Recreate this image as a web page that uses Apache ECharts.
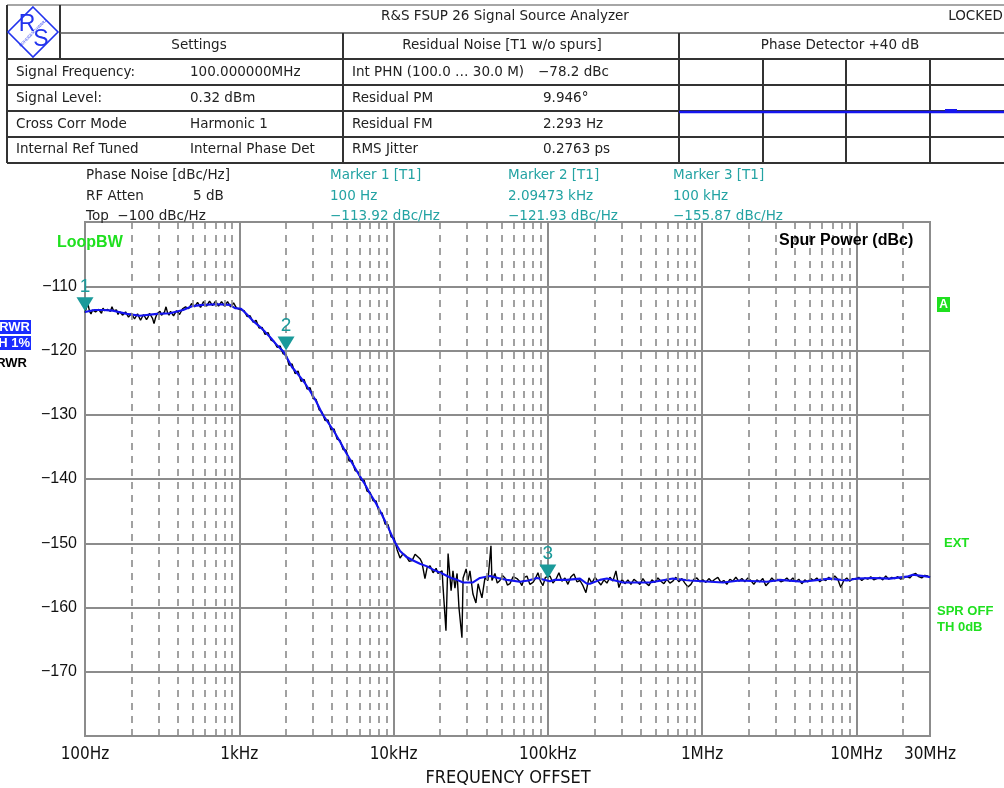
<!DOCTYPE html>
<html><head><meta charset="utf-8">
<script src="https://cdn.jsdelivr.net/npm/echarts@6/dist/echarts.min.js"></script>
<style>html,body{margin:0;padding:0;background:#fff;}#c{width:1004px;height:788px;}</style>
</head><body><div id="c"></div>
<script>
// ---------------- data ----------------
const xTickLabels = {100:'100Hz',1e3:'1kHz',1e4:'10kHz',1e5:'100kHz',1e6:'1MHz',1e7:'10MHz',3e7:'30MHz'};
const yTicks = [-110,-120,-130,-140,-150,-160,-170];
const minorGridFreqs = [200,300,400,500,600,700,800,900,2000,3000,4000,5000,6000,7000,8000,9000,
  2e4,3e4,4e4,5e4,6e4,7e4,8e4,9e4,2e5,3e5,4e5,5e5,6e5,7e5,8e5,9e5,2e6,3e6,4e6,5e6,6e6,7e6,8e6,9e6,2e7];

const blackLow = [[100,-114.1],[102.3,-113.3],[104.6,-112.8],[107.0,-113.9],[109.4,-114.3],[111.9,-113.7],[114.4,-113.5],[117.0,-114.0],[119.6,-114.3],[122.3,-113.6],
 [125.1,-113.8],[127.9,-114.2],[130.8,-113.4],[133.8,-113.8],[136.8,-114.1],[139.9,-113.6],[143.1,-113.4],[146.3,-113.9],[149.6,-113.2],[153.0,-113.8],
 [156.5,-114.1],[160.0,-113.7],[163.7,-114.4],[167.4,-113.9],[171.2,-113.8],[175.1,-114.5],[179.0,-114.7],[183.1,-114.0],[187.2,-114.2],[191.4,-114.8],
 [195.8,-115.0],[200.2,-114.2],[204.8,-114.4],[209.4,-115.1],[214.1,-114.9],[219.0,-114.3],[224.0,-114.5],[229.1,-115.3],[234.2,-115.1],[239.5,-114.4],
 [244.9,-114.6],[250.5,-115.2],[256.2,-114.8],[262.0,-114.2],[267.9,-114.4],[274.0,-115.0],[280.2,-115.8],[286.5,-114.9],[293.0,-114.3],[299.6,-114.6],
 [306.4,-113.9],[313.4,-114.5],[320.5,-114.6],[327.7,-114.0],[335.1,-113.2],[342.7,-114.1],[350.5,-114.5],[358.4,-113.9],[366.6,-114.1],[374.9,-114.6],
 [383.4,-114.4],[392.1,-113.8],[400.9,-114.0],[410.0,-114.4],[419.3,-114.1],[428.8,-113.5],[438.5,-113.7],[448.4,-113.2],[458.6,-112.9],[469.0,-113.5],
 [479.6,-113.2],[490.5,-112.7],[501.6,-112.6],[512.9,-113.2],[524.5,-113.0],[536.4,-112.5],[548.6,-112.8],[561.0,-113.3],[573.7,-113.0],[586.7,-112.4],
 [600.0,-112.6],[613.6,-113.1],[627.5,-112.8],[641.7,-112.3],[656.2,-112.5],[671.1,-113.0],[686.3,-112.8],[701.8,-112.3],[717.7,-112.7],[734.0,-113.1],
 [750.6,-112.9],[767.6,-112.4],[785.0,-112.6],[802.8,-113.1],[820.9,-112.9],[839.5,-112.4],[858.6,-112.7],[878.0,-113.2],[897.9,-113.0],[918.2,-112.6],
 [939.0,-112.9],[960.3,-113.4],[982.0,-113.2],[1004,-113.6]];
const blackSlope = [[1027,-113.7],[1074,-113.8],[1123,-114.7],[1175,-114.6],[1229,-115.6],[1285,-115.3],[1344,-116.5],[1405,-116.4],[1470,-117.5],[1537,-117.2],
 [1608,-118.4],[1681,-118.6],[1758,-119.5],[1839,-119.3],[1923,-120.5],[2011,-120.6],[2103,-122.3],[2199,-122.1],[2300,-123.6],[2405,-123.2],
 [2515,-124.8],[2631,-124.5],[2751,-126.0],[2877,-125.8],[3009,-127.5],[3147,-127.6],[3291,-129.2],[3441,-129.6],[3599,-130.9],[3764,-130.8],
 [3936,-132.4],[4116,-132.2],[4305,-133.8],[4502,-134.0],[4708,-135.4],[4924,-135.5],[5149,-137.2],[5385,-137.1],[5632,-138.7],[5890,-138.9],
 [6159,-140.2],[6441,-140.2],[6736,-141.9],[7045,-142.1],[7367,-143.4],[7705,-143.4],[8057,-145.2],[8426,-145.3],[8812,-147.0],[9216,-147.1],
 [9638,-149.0],[10080,-149.2],[10540,-151.0],[11020,-152.3]];
const blackKnee = [[11530,-151.6],[12060,-152.0],[12610,-152.8],[13190,-152.7],[13790,-151.7],[14180,-151.6],[14830,-152.4],[15280,-153.0],[15980,-155.5],[16500,-153.8],
 [17250,-153.5],[18040,-154.6],[18870,-153.9],[19400,-154.7],[20640,-154.3],[20900,-156.6],[21860,-163.6],[22570,-151.6],[23600,-157.4],[24270,-154.3],
 [25000,-157.0],[25810,-154.7],[26540,-160.0],[27750,-164.7],[28230,-155.4],[29530,-154.0],[30350,-155.8],[31270,-154.3],[32700,-157.9],[34200,-159.3],
 [35320,-156.3],[37410,-158.5],[39120,-155.4],[40910,-155.8],[42790,-150.4],[43420,-155.8],[45410,-154.7],[47000,-156.2],[48930,-155.8],[50800,-155.0],
 [52720,-155.4],[54700,-156.5],[56810,-156.3],[59500,-155.2],[63070,-155.5],[65500,-155.9],[67960,-156.6],[70500,-155.3],[73210,-155.1],[76500,-156.4],
 [80090,-156.1],[83000,-155.5],[86280,-154.6],[89500,-155.9],[92950,-156.6],[96500,-155.3]];
const blackFloorA = [[103200,-155.1],[107900,-156.2],[112900,-155.6],[118000,-154.6],[123400,-155.9],[129100,-155.4],[135000,-156.4],[141200,-155.2],[147700,-154.8],[154400,-156.0],
 [161500,-155.8],[168900,-156.6],[176600,-157.7],[184700,-155.4],[193100,-156.2],[202000,-155.3],[211200,-155.9],[220900,-156.5],[231000,-155.7],[241600,-156.2],
 [252600,-155.3],[264200,-155.9],[276300,-154.3],[288900,-156.9],[302100,-155.6],[316000,-156.3],[330400,-155.7],[345600,-156.4],[361400,-155.6],[377900,-156.0],
 [395200,-156.4],[413300,-155.5],[432200,-156.2],[452000,-156.6],[472700,-155.7],[494300,-156.1],[516900,-155.4],[540600,-155.9],[565300,-156.3],[591200,-155.6],
 [618200,-156.2],[646500,-155.9],[676100,-155.3],[707100,-156.0],[739400,-155.5],[773300,-156.2],[808700,-156.8],[845700,-156.4],[884400,-155.6],[924800,-155.4],
 [967200,-156.0],[1011000,-155.7]];
const blackFloorB = [[1057700,-156.1],[1106100,-155.5],[1156700,-156.0],[1209700,-155.6],[1265000,-155.3],[1322900,-156.1],[1383400,-155.8],[1446700,-156.4],[1513000,-155.6],[1582200,-155.9],
 [1654600,-155.3],[1730300,-155.9],[1809500,-155.5],[1892300,-156.0],[1978900,-155.4],[2069500,-155.8],[2164200,-156.4],[2263200,-155.7],[2366800,-156.0],[2475100,-155.5],
 [2588400,-156.6],[2706800,-156.1],[2830700,-155.4],[2960200,-155.9],[3095700,-155.6],[3237400,-156.0],[3385500,-155.8],[3540400,-155.4],[3702400,-155.9],[3871900,-155.4],
 [4049100,-156.0],[4234400,-155.6],[4428100,-156.3],[4630800,-155.7],[4842700,-156.0],[5064300,-155.5],[5296000,-155.8],[5538400,-155.4],[5791800,-156.0],[6056900,-155.6],
 [6334000,-155.8],[6623900,-155.3],[6927000,-155.7],[7244000,-155.1],[7575500,-155.6],[7922100,-156.9],[8284600,-155.8],[8663800,-155.4],[9060200,-155.9],[9474800,-155.5],
 [9908400,-155.6]];
const blackFloorC = [[10362000,-155.3],[10836000,-155.8],[11332000,-155.4],[11850000,-155.6],[12393000,-155.2],[12960000,-155.7],[13553000,-155.5],[14173000,-155.3],[14822000,-155.7],[15500000,-155.1],
 [16209000,-155.6],[16951000,-155.3],[17727000,-155.5],[18538000,-155.2],[19386000,-155.6],[20273000,-155.4],[21201000,-155.2],[22171000,-155.4],[23186000,-154.9],[24247000,-154.7],
 [25357000,-155.2],[26517000,-155.4],[27730000,-155.0],[29000000,-155.1],[30000000,-155.3]];
const blueTrace = [[100,-114.0],[115,-113.7],[131,-113.7],[152,-113.8],[187,-114.3],[227,-114.6],[293,-114.3],[356,-114.2],[432,-113.7],[494,-113.1],
 [582,-112.9],[718,-112.8],[871,-112.9],[938,-113.4],[1027,-113.5],[1123,-114.4],[1229,-115.4],[1344,-116.2],[1470,-117.1],[1608,-118.1],
 [1758,-119.2],[1923,-120.1],[2011,-120.9],[2199,-122.6],[2405,-123.7],[2631,-124.9],[2877,-126.3],[3147,-127.9],[3441,-129.8],[3764,-131.2],
 [4116,-132.6],[4502,-134.2],[4924,-135.9],[5385,-137.5],[5890,-139.1],[6441,-140.6],[7045,-142.3],[7705,-143.8],[8426,-145.6],[9216,-147.5],
 [10080,-149.6],[11020,-151.2],[12060,-152.1],[13190,-152.6],[14830,-153.2],[16500,-153.6],[18040,-154.1],[20640,-154.7],[23600,-155.4],[25810,-155.7],
 [28230,-156.1],[32700,-156.1],[36300,-155.4],[42170,-155.1],[48930,-155.5],[54330,-155.7],[65900,-156.0],[75000,-155.8],[84950,-155.4],[103200,-155.9],
 [111200,-155.7],[133000,-155.7],[161500,-155.5],[179200,-156.3],[187500,-156.3],[217700,-155.7],[241600,-155.5],[306700,-156.1],[459000,-156.1],[647000,-155.5],
 [834000,-155.8],[1365000,-156.1],[1758000,-155.8],[2630000,-156.0],[3190000,-155.7],[4500000,-156.0],[6730000,-155.5],[8670000,-155.8],[10070000,-155.5],[12790000,-155.4],
 [16480000,-155.5],[21240000,-155.2],[23230000,-154.9],[29060000,-155.2],[30000000,-155.3]];
const markers = [['1',100,-113.9],['2',2010,-120.0],['3',100000,-155.5]];

const titleText = 'R&S FSUP 26 Signal Source Analyzer';
const statusText = 'LOCKED';
const columnHeads = ['Settings','Residual Noise [T1 w/o spurs]','Phase Detector +40 dB'];
const settingsLabels = ['Signal Frequency:','Signal Level:','Cross Corr Mode','Internal Ref Tuned'];
const settingsValues = ['100.000000MHz','0.32 dBm','Harmonic 1','Internal Phase Det'];
const residualLabels = ['Int PHN (100.0 \u2026 30.0 M)','Residual PM','Residual FM','RMS Jitter'];
const residualValues = ['\u221278.2 dBc','9.946\u00b0','2.293 Hz','0.2763 ps'];
const infoLabels = ['Phase Noise [dBc/Hz]','RF Atten','Top  \u2212100 dBc/Hz'];
const infoValues = ['','5 dB',''];
const markerInfo = [['Marker 1 [T1]','100 Hz','\u2212113.92 dBc/Hz'],['Marker 2 [T1]','2.09473 kHz','\u2212121.93 dBc/Hz'],['Marker 3 [T1]','100 kHz','\u2212155.87 dBc/Hz']];

// ---------------- drawing ----------------
const HF = '13.5px "DejaVu Sans", Verdana, sans-serif';
const TEAL = '#23a3a3';
const GREEN = '#1fe01f';
function L(x1,y1,x2,y2,c,w){return {type:'line',silent:true,shape:{x1,y1,x2,y2},style:{stroke:c||'#333',lineWidth:w||2}};}
function T(x,y,t,o){o=o||{};return {type:'text',silent:true,x:x,y:y,z:10,style:{text:t,fill:o.fill||'#222',font:o.font||HF,align:o.align||'left',verticalAlign:'middle',textAlign:o.align||'left',textVerticalAlign:'middle'}};}
function R(x,y,w,h,fill){return {type:'rect',silent:true,shape:{x,y,width:w,height:h},style:{fill:fill}};}

const g = [];
g.push(L(7,5,1004,5,'#888',1.5));
g.push(L(7,5,7,163,'#333',2));
g.push(L(60,5,60,59,'#333',2));
g.push(L(60,33,1004,33,'#555',1.5));
[59,85,111,137,163].forEach(y=>g.push(L(7,y,1004,y,'#333',2)));
g.push(L(343,33,343,163,'#333',2));
g.push(L(679,33,679,163,'#333',2));
[763,846,930].forEach(x=>g.push(L(x,59,x,163,'#333',2)));
// logo
g.push({type:'polygon',silent:true,shape:{points:[[33,7],[58,32],[33,57],[8,32]]},style:{fill:'none',stroke:'#2233ee',lineWidth:1.6}});
g.push(T(27,25,'R',{fill:'#2233ee',font:'23px "Liberation Sans"',align:'center'}));
g.push(T(41,40,'S',{fill:'#2233ee',font:'23px "Liberation Sans"',align:'center'}));
g.push({type:'text',silent:true,x:33,y:33,rotation:Math.PI/4,style:{text:'ROHDE&SCHWARZ',fill:'#2233ee',font:'4px sans-serif',align:'center',verticalAlign:'middle',textAlign:'center',textVerticalAlign:'middle'}});
// phase detector mini plot
g.push(L(679,112,1004,112,'#1515ee',2.5));
g.push(R(945,109,12,3,'#1515ee'));
// texts
g.push(T(505,16,titleText,{align:'center'}));
g.push(T(1003,16,statusText,{align:'right'}));
g.push(T(199,45,columnHeads[0],{align:'center'}));
g.push(T(502,45,columnHeads[1],{align:'center'}));
g.push(T(840,45,columnHeads[2],{align:'center'}));
const rowY=[72,98,124,149];
settingsLabels.forEach((t,i)=>g.push(T(16,rowY[i],t)));
settingsValues.forEach((t,i)=>g.push(T(190,rowY[i],t)));
residualLabels.forEach((t,i)=>g.push(T(352,rowY[i],t)));
residualValues.forEach((t,i)=>g.push(T(i===0?538:543,rowY[i],t)));
const infoY=[175,196,216];
infoLabels.forEach((t,i)=>g.push(T(86,infoY[i],t)));
infoValues.forEach((t,i)=>{if(t)g.push(T(193,infoY[i],t));});
const mX=[330,508,673];
markerInfo.forEach((col,j)=>col.forEach((t,i)=>g.push(T(mX[j],infoY[i],t,{fill:TEAL}))));
const BF='bold 16px "Liberation Sans", Arial, sans-serif';
const SF='bold 13px "Liberation Sans", Arial, sans-serif';
g.push(T(57,243,'LoopBW',{fill:GREEN,font:BF}));
g.push(T(779,241,'Spur Power (dBc)',{fill:'#000',font:BF}));
g.push(R(0,320,31,14,'#1a2cff'));
g.push(T(30,327,'RWR',{fill:'#fff',font:SF,align:'right'}));
g.push(R(0,336,31,14,'#1a2cff'));
g.push(T(30,343,'H 1%',{fill:'#fff',font:SF,align:'right'}));
g.push(T(27,363,'RWR',{fill:'#000',font:SF,align:'right'}));
g.push(R(937,297,13,15,GREEN));
g.push(T(943.5,304.5,'A',{fill:'#fff',font:'bold 12px "Liberation Sans", Arial',align:'center'}));
g.push(T(944,543,'EXT',{fill:GREEN,font:SF}));
g.push(T(937,611,'SPR OFF',{fill:GREEN,font:SF}));
g.push(T(937,627,'TH 0dB',{fill:GREEN,font:SF}));
g.push(T(508,778,'FREQUENCY OFFSET',{fill:'#111',font:'18px "Liberation Sans Narrow", "DejaVu Sans Condensed", sans-serif',align:'center'}));

const chart = echarts.init(document.getElementById('c'), null, {renderer:'canvas'});
const GRIDC = '#8c8c8c';
chart.setOption({
  animation:false,
  backgroundColor:'#fff',
  grid:{left:85,right:74,top:222,bottom:52,show:true,borderColor:GRIDC,borderWidth:2,backgroundColor:'#fff',outerBoundsMode:'none'},
  xAxis:{type:'log',logBase:10,min:100,max:3e7,
    axisLine:{show:false},axisTick:{show:false},
    splitLine:{show:true,lineStyle:{color:GRIDC,width:2}},
    axisLabel:{margin:10,color:'#111',fontSize:17,fontFamily:'"Liberation Sans Narrow", "DejaVu Sans Condensed", sans-serif',
      showMinLabel:true,showMaxLabel:true,
      formatter:function(v){const k=[100,1e3,1e4,1e5,1e6,1e7,3e7].reduce((a,b)=>Math.abs(Math.log10(b)-Math.log10(v))<Math.abs(Math.log10(a)-Math.log10(v))?b:a);return xTickLabels[k]||'';}}
  },
  yAxis:{type:'value',min:-180,max:-100,interval:10,
    axisLine:{show:false},axisTick:{show:false},
    splitLine:{show:true,lineStyle:{color:GRIDC,width:2}},
    axisLabel:{margin:8,color:'#111',fontSize:16,fontFamily:'"Liberation Sans", Arial, sans-serif',
      formatter:function(v){return yTicks.indexOf(v)>=0?String(v).replace('-','\u2212'):'';}}
  },
  series:[
    {type:'line',name:'trace',data:[].concat(blackLow,blackSlope,blackKnee,blackFloorA,blackFloorB,blackFloorC),showSymbol:false,sampling:'none',silent:true,z:3,
     lineStyle:{color:'#000',width:1.4},
     markLine:{silent:true,symbol:['none','none'],label:{show:false},animation:false,
       lineStyle:{color:'#8a8a8a',width:1.6,type:[7,6]},emphasis:{disabled:true},
       data:minorGridFreqs.map(f=>({xAxis:f}))}},
    {type:'line',name:'avg',data:blueTrace,showSymbol:false,sampling:'none',silent:true,z:4,
     lineStyle:{color:'#1414f0',width:2.1},
     markPoint:{silent:true,symbol:'path://M0,0 L17,0 L8.5,14 Z',symbolSize:[17,14],symbolOffset:[0,'-50%'],
       itemStyle:{color:'#1a9a9a'},
       label:{show:true,position:'top',distance:1,color:'#1a9a9a',fontSize:19,fontFamily:'"Liberation Sans", Arial, sans-serif',formatter:p=>p.name},
       data:markers.map(m=>({name:m[0],coord:[m[1],m[2]]}))}}
  ],
  graphic:g
});
</script></body></html>
